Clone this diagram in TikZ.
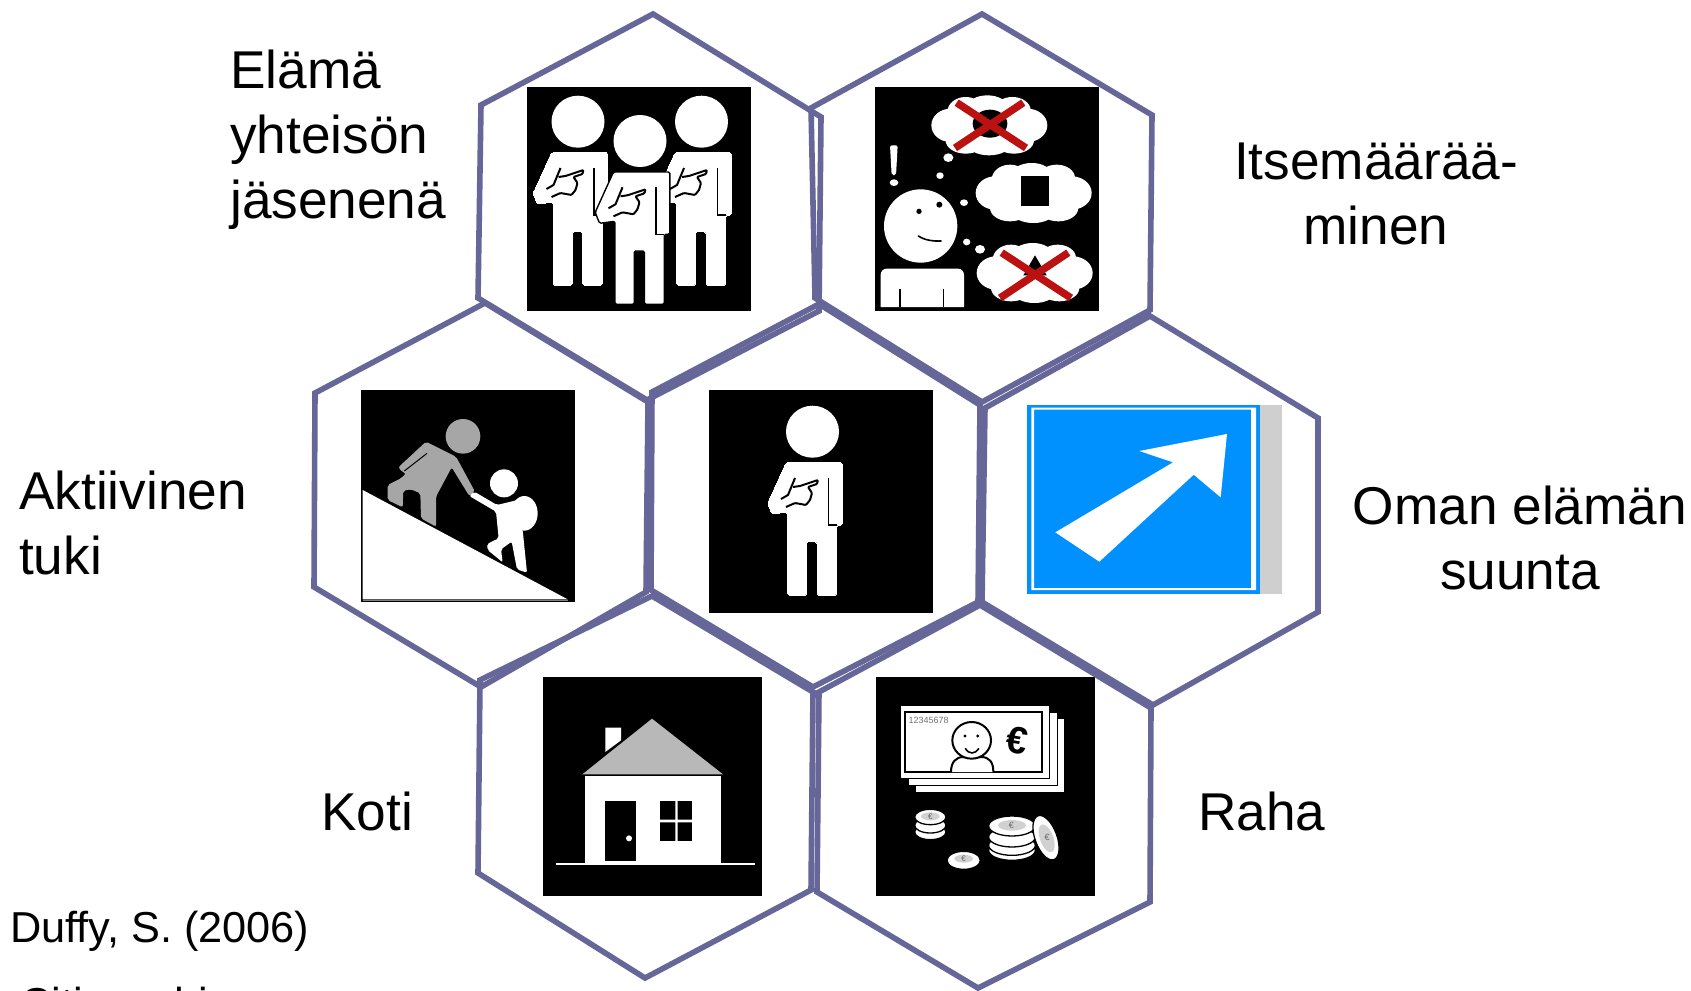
\documentclass[tikz,border=0pt]{standalone}
\usepackage{fontspec}
\setmainfont{Liberation Sans}
\definecolor{hexline}{HTML}{666699}
\definecolor{signblue}{HTML}{0091FF}
\definecolor{crossred}{HTML}{BB1111}
\tikzset{
  hexcell/.style={draw=hexline,line width=5.6pt,line join=miter,miter limit=3},
  label/.style={inner sep=0pt,font=\fontsize{53.2}{65}\selectfont},
  credit/.style={inner sep=0pt,anchor=north west,font=\fontsize{43.3}{50}\selectfont},
  crop/.style={x=0.33333pt,y=-0.33333pt},
  crossbar/.style={draw=crossred,line width=7.5pt},
  coin/.style={fill=white,draw=black,line width=1.3pt},
}
\newcommand{\personfig}[4]{% dx dy, outline colour, outline width
  \begin{scope}[shift={(#1,#2)}]
    \fill[white] (812.5,431.7) ellipse (26.5 and 26);
    \draw[fill=white,draw=#3,line width=#4,rounded corners=1.5pt]
      (786,462.7) -- (842.3,462.7) -- (842.3,525) -- (836.7,525) -- (836.7,595) -- (817,595)
      -- (817,541.7) -- (806.7,541.7) -- (806.7,595) -- (787.5,595) -- (787.5,512)
      -- (772,514) -- (767.7,503) -- cycle;
    \draw[black,line width=1.6pt] (828.3,478) -- (828.3,525) -- (836.7,525);
    \draw[black,line width=2pt,line join=round]
      (795,478) -- (788,495) -- (781,499);
    \draw[black,line width=2pt,line join=round,rounded corners=1pt]
      (793,487) -- (800,486) -- (818,480) -- (817,484) -- (808,487) -- (812,493)
      -- (810,500) -- (806,505) -- (795,503) -- (786,507);
  \end{scope}}
\newcommand{\cloudfig}[2]{%
  \begin{scope}[shift={(#1,#2)}]
    \fill[white] (0,0) ellipse (130 and 65)
      (-115,0) ellipse (58 and 50) (115,0) ellipse (60 and 50)
      (-70,-40) ellipse (55 and 45) (-5,-55) ellipse (60 and 35) (70,-45) ellipse (55 and 40)
      (-70,45) ellipse (60 and 40) (0,55) ellipse (65 and 35) (75,45) ellipse (60 and 40);
  \end{scope}}
\newcommand{\crossfig}[2]{%
  \begin{scope}[shift={(#1,#2)}]
    \draw[crossbar] (-100,-68) -- (108,68);
    \draw[crossbar] (100,-68) -- (-105,68);
  \end{scope}}
\begin{document}
\begin{tikzpicture}[x=1pt,y=-1pt]
\useasboundingbox (0,0) rectangle (1691,990);
\fill[white] (0,0) rectangle (1691,990);
\clip (0,0) rectangle (1691,990);

% icon backgrounds
\fill[black] (527,87) rectangle (751,311);
\fill[black] (875,87) rectangle (1099,311);
\fill[black] (361,390) rectangle (575,602);
\fill[black] (709,390) rectangle (933,613);
\fill[black] (543,677) rectangle (762,896);
\fill[black] (876,677) rectangle (1095,896);

% three people
\personfig{-234.5}{-310}{white}{0pt}
\personfig{-111}{-310}{white}{0pt}
\personfig{-172.5}{-290.7}{black}{1.4pt}
% one person
\personfig{0}{0}{white}{0pt}

% thinking person
\begin{scope}[shift={(875,87)},crop]
  \fill[white,rounded corners=2pt] (45,175) -- (68,175) -- (63,265) -- (50,265) -- cycle;
  \fill[white] (57,287) ellipse (13 and 10);
  \fill[white] (137,417) ellipse (110 and 110);
  \fill[black] (132,373) circle (8) (193,353) circle (9);
  \draw[black,line width=1.6pt,line cap=round] (130,447) .. controls (150,460) and (175,463) .. (198,462);
  \fill[white] (17,660) [rounded corners=6pt] -- (17,545) -- (267,545) [sharp corners] -- (267,660) -- cycle;
  \draw[black,line width=1.2pt] (75,605) -- (75,660) (205,605) -- (205,660);
  \fill[white] (220,212) ellipse (15 and 13) (195,266) ellipse (11 and 10) (267,347) ellipse (12 and 10)
     (275,465) ellipse (11 and 10) (315,487) ellipse (15 and 13);
  \cloudfig{342}{115}
  \cloudfig{475}{318}
  \cloudfig{478}{558}
  \fill[black] (345,110) ellipse (52 and 42);
  \fill[black] (438,268) rectangle (522,357);
  \fill[black] (480,505) -- (515,565) -- (445,565) -- cycle;
  \crossfig{345}{115}
  \crossfig{480}{565}
\end{scope}

% climbing
\begin{scope}[shift={(361,390)},crop]
  \fill[white] (5,300) -- (620,628) -- (5,628) -- cycle;
  \draw[gray,line width=0.8pt] (5,630) -- (620,630);
  \fill[black!35] (306,139) circle (52);
  \fill[black!35,rounded corners=2pt] (195,155) -- (285,200) -- (342,305) -- (325,318)
    -- (272,232) -- (225,320) -- (225,410) -- (180,385) -- (178,310) -- (150,298) -- (127,302)
    -- (125,352) -- (80,330) -- (80,285) -- (120,265) -- (135,250) -- (125,247) -- (112,232) -- cycle;
  \draw[black,line width=1pt] (130,243) -- (198,190);
  \fill[white] (429,280) circle (42);
  \fill[white] (490,370) ellipse (40 and 52);
  \fill[white,rounded corners=2pt] (325,318) -- (340,305) -- (408,345) -- (470,330) -- (480,405)
    -- (485,420) -- (498,548) -- (468,538) -- (452,455) -- (420,478) -- (425,517) -- (380,480)
    -- (378,462) -- (413,445) -- (405,365) -- cycle;
\end{scope}

% direction sign
\begin{scope}[shift={(960,370)},crop]
  \fill[black!19] (900,105) rectangle (966,672);
  \fill[signblue] (201,105) rectangle (900,672);
  \fill[white,even odd rule] (214,113) rectangle (888,660) (222,119) rectangle (873,654);
  \fill[white] (286,487) -- (639,277) -- (538,243) -- (801,192) -- (782,382) -- (701,314) -- (418,575) -- cycle;
\end{scope}

% house
\begin{scope}[shift={(543,677)},crop]
  \fill[white] (187,152) -- (234,152) -- (234,190) -- (187,225) -- cycle;
  \fill[black!28] (327,125) -- (540,292) -- (118,292) -- cycle;
  \fill[white] (125,298) rectangle (535,558);
  \fill[black] (185,373) rectangle (280,553);
  \fill[white] (258,484) circle (9);
  \fill[black] (351,371) rectangle (447,493);
  \fill[white] (397,371) rectangle (404,493) (351,428) rectangle (447,436);
  \fill[white] (40,557) rectangle (635,563);
\end{scope}

% money
\begin{scope}[shift={(876,677)},crop]
  \draw[fill=white,draw=black,line width=0.8pt] (118,125) rectangle (565,345);
  \draw[fill=white,draw=black,line width=0.8pt] (96,105) rectangle (543,325);
  \draw[fill=white,draw=black,line width=0.8pt] (72,85) rectangle (520,305);
  \draw[black,line width=2pt] (88,105) rectangle (497,285);
  \node[inner sep=0pt,anchor=west,text=black!55,font=\fontsize{9}{9}\selectfont] (serial) at (97,130) {12345678};
  \draw[fill=white,draw=black,line width=2pt] (225,285) .. controls (225,255) and (240,240) .. (262,240)
     -- (315,240) .. controls (340,240) and (352,255) .. (352,285);
  \draw[fill=white,draw=black,line width=2pt] (287,190) ellipse (58 and 55);
  \fill[black] (267,177) circle (5) (305,177) circle (5);
  \draw[black,line width=1.6pt,line cap=round] (268,215) .. controls (278,232) and (298,232) .. (308,215);
  \node[inner sep=0pt,font=\bfseries\fontsize{38}{38}\selectfont,rotate=-10] (euro) at (424,190) {€};
  % coins
  \foreach \cy in {465,445,420} {\draw[coin] (163,\cy) ellipse (47 and 23);}
  \fill[black!18] (163,418) ellipse (28 and 12);
  \node[inner sep=0pt,text=black!60,font=\fontsize{8}{8}\selectfont] (eurob) at (163,418) {€};
  \foreach \cy in {520,505,480,447} {\draw[coin] (408,\cy) ellipse (70 and 30);}
  \fill[black!18] (408,445) ellipse (42 and 16);
  \node[inner sep=0pt,text=black!60,font=\fontsize{9}{9}\selectfont] (euroc) at (406,445) {€};
  \draw[coin,rotate around={20:(510,482)}] (510,482) ellipse (33 and 70);
  \fill[black!18,rotate around={20:(512,484)}] (512,484) ellipse (20 and 44);
  \node[inner sep=0pt,text=black!60,font=\fontsize{9}{9}\selectfont] (eurod) at (513,480) {€};
  \draw[coin] (263,550) ellipse (50 and 27);
  \fill[black!18] (263,545) ellipse (28 and 12);
  \node[inner sep=0pt,text=black!60,font=\fontsize{8}{8}\selectfont] (euroe) at (263,545) {€};
\end{scope}

% hexagons
\draw[hexcell] (653,14) -- (821,117) -- (819,311) -- (647,400) -- (478,298) -- (481,105) -- cycle;
\draw[hexcell] (982,14) -- (1152,115) -- (1150,310) -- (982,402) -- (815,298) -- (811,108) -- cycle;
\draw[hexcell] (485,303) -- (648,402) -- (646,592) -- (481,687) -- (314,587) -- (315,393) -- cycle;
\draw[hexcell] (819,304) -- (980,405) -- (978,602) -- (813,687) -- (651,590) -- (652,392) -- cycle;
\draw[hexcell] (1150,316) -- (1318,418) -- (1318,612) -- (1153,705) -- (982,602) -- (985,408) -- cycle;
\draw[hexcell] (652,596) -- (813,692) -- (811,890) -- (645,978) -- (478,873) -- (480,680) -- cycle;
\draw[hexcell] (980,605) -- (1151,708) -- (1150,902) -- (978,988) -- (817,892) -- (819,692) -- cycle;

% labels
\node[label,anchor=north west,align=left] (elama) at (230,50) {Elämä\\yhteisön\\jäsenenä};
\node[label,anchor=north,align=center] (itse) at (1376,143) {Itsemäärää-\\minen};
\node[label,anchor=north west,align=left] (aktiivinen) at (19,471) {Aktiivinen\\tuki};
\node[label,anchor=north,align=center] (suunta) at (1520,486) {Oman elämän\\suunta};
\node[label,anchor=north west] (koti) at (321,792) {Koti};
\node[label,anchor=north west] (raha) at (1198,792) {Raha};
\node[credit] (duffy) at (10,911) {Duffy, S. (2006)};
\node[credit] (citizen) at (20,987) {Citizenship};
\end{tikzpicture}
\end{document}
